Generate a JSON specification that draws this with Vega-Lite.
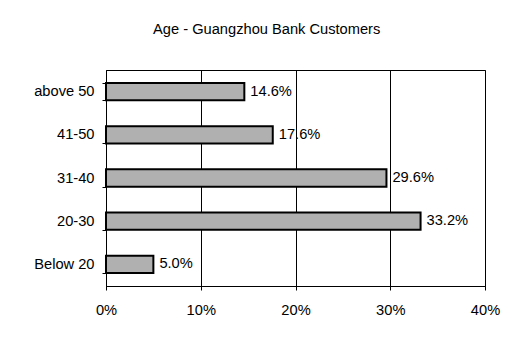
{
  "$schema": "https://vega.github.io/schema/vega-lite/v6.json",
  "width": 379,
  "height": 216,
  "autosize": {"type": "none"},
  "padding": {"left": 106, "top": 70, "right": 34, "bottom": 57},
  "background": "white",
  "title": {
    "text": "Age - Guangzhou Bank Customers",
    "font": "Liberation Sans",
    "fontSize": 14.67,
    "fontWeight": "normal",
    "color": "black",
    "anchor": "middle",
    "frame": "bounds",
    "baseline": "alphabetic",
    "offset": 13
  },
  "data": {
    "values": [
      {"age": "above 50", "share": 0.146},
      {"age": "41-50", "share": 0.176},
      {"age": "31-40", "share": 0.296},
      {"age": "20-30", "share": 0.332},
      {"age": "Below 20", "share": 0.05}
    ]
  },
  "encoding": {
    "y": {
      "field": "age",
      "type": "nominal",
      "sort": ["above 50", "41-50", "31-40", "20-30", "Below 20"],
      "title": null,
      "scale": {"paddingInner": 0.6, "paddingOuter": 0.3},
      "axis": {
        "domainColor": "black",
        "domainWidth": 1,
        "tickColor": "black",
        "tickSize": 4,
        "tickBand": "extent",
        "labelFont": "Liberation Sans",
        "labelFontSize": 14.67,
        "labelColor": "black",
        "labelPadding": 8
      }
    },
    "x": {
      "field": "share",
      "type": "quantitative",
      "title": null,
      "scale": {"domain": [0, 0.4], "nice": false},
      "axis": {
        "format": ".0%",
        "values": [0, 0.1, 0.2, 0.3, 0.4],
        "grid": true,
        "gridColor": "black",
        "gridWidth": 1,
        "gridOpacity": 1,
        "domainColor": "black",
        "domainWidth": 1,
        "tickColor": "black",
        "tickSize": 4,
        "labelFont": "Liberation Sans",
        "labelFontSize": 14.67,
        "labelColor": "black",
        "labelPadding": 12,
        "labelFlush": false
      }
    }
  },
  "layer": [
    {
      "mark": {"type": "bar", "fill": "#b0b0b0", "stroke": "black", "strokeWidth": 2}
    },
    {
      "mark": {
        "type": "text",
        "align": "left",
        "baseline": "middle",
        "dx": 6,
        "font": "Liberation Sans",
        "fontSize": 14.67,
        "color": "black"
      },
      "encoding": {"text": {"field": "share", "type": "quantitative", "format": ".1%"}}
    }
  ],
  "config": {
    "view": {"stroke": "black", "strokeWidth": 1}
  }
}
